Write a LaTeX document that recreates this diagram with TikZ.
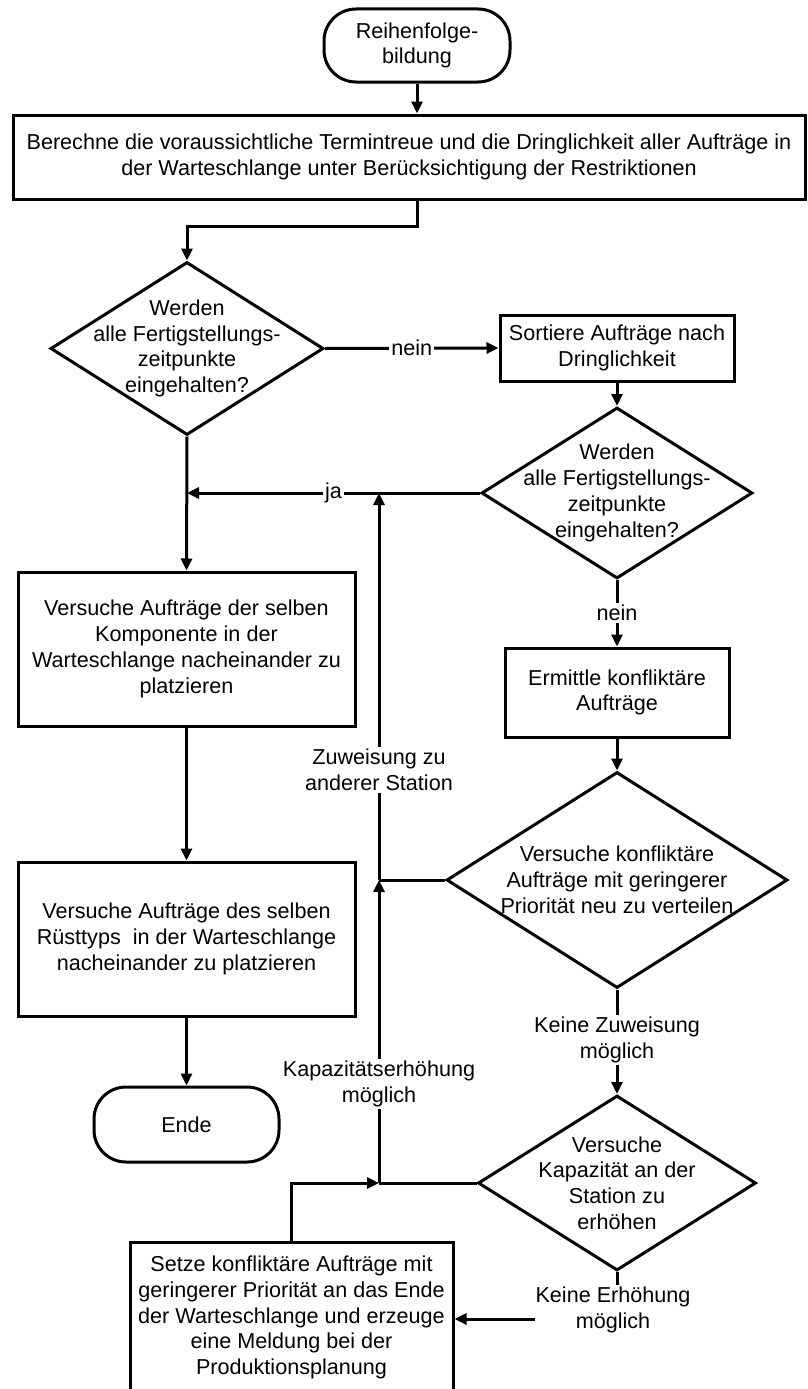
\documentclass[tikz,border=0pt]{standalone}
\usepackage{fontspec}
\setmainfont{Liberation Sans}
\usetikzlibrary{arrows.meta,shapes.geometric}
\begin{document}
\begin{tikzpicture}[x=1pt,y=-1pt,
  every node/.style={font=\fontsize{21.6pt}{25.8pt}\selectfont},
  ln/.style={line width=3pt},
  arr/.style={ln,-{Triangle[length=12pt,width=11pt]}},
  proc/.style={draw,ln,rectangle,inner sep=0pt,align=center},
  term/.style={proc,rounded corners=32pt},
  dec/.style={draw,ln,diamond,inner sep=0pt},
  txt/.style={align=center,inner sep=0pt},
  lab/.style={fill=white,align=center,inner sep=2pt}]

% page
\fill[white] (0,0) rectangle (807,1389);
\useasboundingbox (0,0) rectangle (807,1389);
\clip (0,0) rectangle (807,1389);

% start and first calculation
\node[term,minimum width=186pt,minimum height=73pt] (st) at (417,45.5) {Reihenfolge-\\bildung};
\node[proc,minimum width=792pt,minimum height=84pt] (b1) at (409,157)
  {Berechne die voraussichtliche Termintreue und die Dringlichkeit aller Aufträge in\\der Warteschlange unter Berücksichtigung der Restriktionen};

% decisions
\node[dec,minimum width=273pt,minimum height=173pt] (d1) at (187,348.5) {};
\node[txt] (d1t) at (d1) {Werden\\alle Fertigstellungs-\\zeitpunkte\\eingehalten?};
\node[dec,minimum width=271pt,minimum height=171pt] (d2) at (617,493) {};
\node[txt] (d2t) at (d2) {Werden\\alle Fertigstellungs-\\zeitpunkte\\eingehalten?};
\node[dec,minimum width=341pt,minimum height=216pt] (d3) at (617,880) {};
\node[txt] (d3t) at (d3) {Versuche konfliktäre\\Aufträge mit geringerer\\Priorität neu zu verteilen};
\node[dec,minimum width=278pt,minimum height=175pt] (d4) at (617,1183) {};
\node[txt] (d4t) at (d4) {Versuche\\Kapazität an der\\Station zu\\erhöhen};

% process boxes
\node[proc,minimum width=234pt,minimum height=66pt] (b2) at (617,348) {Sortiere Aufträge nach\\Dringlichkeit};
\node[proc,minimum width=224pt,minimum height=89pt] (b3) at (617,692.5) {Ermittle konfliktäre\\Aufträge};
\node[proc,minimum width=337pt,minimum height=154pt] (b4) at (186.5,649)
  {Versuche Aufträge der selben\\Komponente in der\\Warteschlange nacheinander zu\\platzieren};
\node[proc,minimum width=337pt,minimum height=154pt] (b5) at (186.5,939)
  {Versuche Aufträge des selben\\Rüsttyps\ \ in der Warteschlange\\nacheinander zu platzieren};
\node[term,minimum width=185pt,minimum height=75pt] (en) at (186.5,1124.5) {Ende};
\node[proc,minimum width=323pt,minimum height=151pt] (b6) at (291.5,1317.5)
  {Setze konfliktäre Aufträge mit\\geringerer Priorität an das Ende\\der Warteschlange und erzeuge\\eine Meldung bei der\\Produktionsplanung};

% connector labels
\node[lab,fill=none] (ln1) at (617,613) {nein};
\node[lab] (lzw) at (379,770) {Zuweisung zu\\anderer Station};
\node[lab] (lkz) at (617,1040) {Keine Zuweisung\\möglich};
\node[lab] (lkap) at (379,1084) {Kapazitätserhöhung\\möglich};
\node[lab] (lke) at (613,1310) {Keine Erhöhung\\möglich};

% junctions
\coordinate (j1) at (379,493);
\coordinate (j2) at (d1.south |- d2.west);
\coordinate (m1) at (379,880);
\coordinate (m2) at (379,1183);
\coordinate (ke) at (535,1319);

% main flow
\draw[arr] (st.south) -- (st.south |- b1.north);
\draw[arr] (st.south |- b1.south) -- ++(0,26) -| (d1.north);
\draw[arr] (d1.east) -- node[lab]{nein} (b2.west);
\draw[arr] (b2.south) -- (d2.north);
\draw[arr] (d2.west) -- node[lab]{ja} (j2);
\draw[arr] (d1.south) -- (b4.north);
\draw[arr] (b4.south) -- (b5.north);
\draw[arr] (b5.south) -- (en.north);

% conflict branch
\draw[ln] (d2.south) -- (ln1.north);
\draw[arr] (ln1.south) -- (b3.north);
\draw[arr] (b3.south) -- (d3.north);
\draw[ln] (d3.south) -- (lkz.north);
\draw[arr] (lkz.south) -- (d4.north);
\draw[ln] (d4.south) -- (d4.south |- lke.north);
\draw[arr] (ke) -- (b6.east |- ke);

% return paths
\draw[ln] (d3.west) -- (m1);
\draw[ln] (m1) -- (lzw.south);
\draw[arr] (lzw.north) -- (j1);
\draw[ln] (d4.west) -- (m2);
\draw[ln] (m2) -- (lkap.south);
\draw[arr] (lkap.north) -- (m1);
\draw[arr] (b6.north) |- (m2);
\end{tikzpicture}
\end{document}
